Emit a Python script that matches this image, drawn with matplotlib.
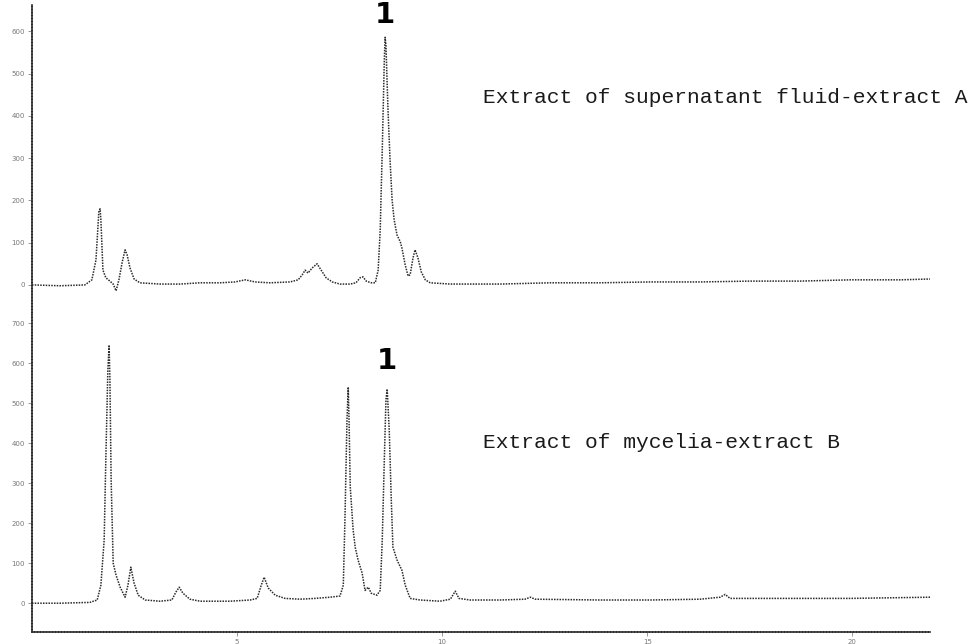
import matplotlib
matplotlib.use("Agg")
import matplotlib.pyplot as plt

# retention time (min) and detector response
t_a = [0, 0.68, 1.29, 1.46, 1.56, 1.63, 1.66, 1.68, 1.73, 1.80, 1.90, 1.98, 2.05, 2.12, 2.20,
       2.27, 2.32, 2.39, 2.49, 2.63, 3.12, 3.61, 4.10, 4.59, 4.95, 5.20, 5.44, 5.80, 6.29, 6.49,
       6.59, 6.66, 6.73, 6.83, 6.95, 7.05, 7.17, 7.32, 7.51, 7.76, 7.90, 8.00, 8.07, 8.15, 8.27,
       8.37, 8.44, 8.49, 8.54, 8.59, 8.61, 8.63, 8.68, 8.73, 8.78, 8.83, 8.90, 8.98, 9.02, 9.10,
       9.17, 9.22, 9.29, 9.34, 9.41, 9.49, 9.59, 9.71, 10.20, 11.41, 12.63, 13.85, 15.07, 16.29,
       17.51, 18.73, 19.95, 21.17, 21.90]
v_a = [0, -2, 0, 12, 59, 173, 180, 154, 35, 17, 9, 2, -14, 12, 54,
       83, 71, 40, 14, 5, 2, 2, 5, 5, 7, 12, 7, 5, 7, 12,
       24, 35, 28, 40, 50, 35, 17, 7, 2, 2, 5, 17, 19, 9, 5,
       5, 35, 130, 319, 532, 586, 567, 414, 296, 201, 154, 118, 102, 87, 47,
       21, 24, 64, 83, 64, 31, 12, 5, 2, 2, 5, 5, 7, 7,
       9, 9, 12, 12, 14]

t_b = [0, 0.68, 1.41, 1.59, 1.68, 1.76, 1.80, 1.85, 1.88, 1.90, 1.93, 1.98, 2.05, 2.15, 2.27,
       2.34, 2.41, 2.49, 2.59, 2.76, 3.12, 3.41, 3.51, 3.59, 3.68, 3.85, 4.10, 4.83, 5.32, 5.49,
       5.59, 5.66, 5.76, 5.93, 6.17, 6.54, 6.90, 7.27, 7.51, 7.59, 7.63, 7.68, 7.71, 7.73, 7.76,
       7.83, 7.88, 7.95, 8.05, 8.12, 8.20, 8.27, 8.41, 8.49, 8.54, 8.59, 8.63, 8.66, 8.71, 8.76,
       8.80, 8.90, 9.02, 9.10, 9.22, 9.46, 9.95, 10.20, 10.32, 10.41, 10.68, 11.41, 12.02, 12.15,
       12.27, 13.85, 15.07, 16.29, 16.78, 16.90, 17.02, 18.24, 19.95, 21.90]
v_b = [0, 0, 2, 8, 45, 158, 358, 583, 645, 558, 308, 100, 70, 40, 15,
       45, 90, 50, 20, 8, 5, 8, 28, 40, 25, 10, 5, 5, 8, 12,
       45, 65, 38, 20, 12, 10, 12, 15, 18, 45, 208, 458, 540, 458, 290,
       183, 140, 108, 75, 32, 40, 25, 20, 32, 158, 358, 508, 535, 433, 258,
       140, 108, 82, 45, 12, 8, 5, 10, 30, 12, 8, 8, 10, 15,
       10, 8, 8, 10, 15, 22, 12, 12, 12, 15]

x_ticks = [5, 10, 15, 20]
y_ticks_a = [0, 100, 200, 300, 400, 500, 600]
y_ticks_b = [0, 100, 200, 300, 400, 500, 600, 700]

label_a = "Extract of supernatant fluid-extract A"
label_b = "Extract of mycelia-extract B"

ink = "#2a2a2a"
dots = (0, (1, 0.8))

fig = plt.figure(figsize=(9.69, 6.44), dpi=100)
ax1 = fig.add_axes([0.033, 0.511, 0.927, 0.481])
ax2 = fig.add_axes([0.033, 0.0186, 0.927, 0.4922])

for ax in (ax1, ax2):
    ax.set_xlim(0, 21.9)
    for s in ("top", "right"):
        ax.spines[s].set_visible(False)
    for s in ("left", "bottom"):
        ax.spines[s].set_linestyle(dots)
        ax.spines[s].set_linewidth(1.2)
        ax.spines[s].set_color(ink)
    ax.tick_params(axis="both", length=3, width=0.6, color="#888888",
                   labelsize=5, labelcolor="#777777", pad=2)

ax1.plot(t_a, v_a, color=ink, lw=1.1, ls=dots)
ax1.set_ylim(-71, 662)
ax1.set_yticks(y_ticks_a)
ax1.spines["bottom"].set_visible(False)
ax1.set_xticks([])

ax2.plot(t_b, v_b, color=ink, lw=1.1, ls=dots)
ax2.set_ylim(-72, 720)
ax2.set_yticks(y_ticks_b)
ax2.set_xticks(x_ticks)

# peak markers
ax1.text(8.61, 638, "1", ha="center", va="center",
         fontsize=21, fontweight="bold", color="black")
ax2.text(8.66, 605, "1", ha="center", va="center",
         fontsize=21, fontweight="bold", color="black")

ax1.text(11.0, 444, label_a, ha="left", va="center",
         family="Liberation Mono", fontsize=15.3, color="#1a1a1a")
ax2.text(11.0, 402, label_b, ha="left", va="center",
         family="Liberation Mono", fontsize=15.3, color="#1a1a1a")

fig.savefig("out.png", dpi=100)
